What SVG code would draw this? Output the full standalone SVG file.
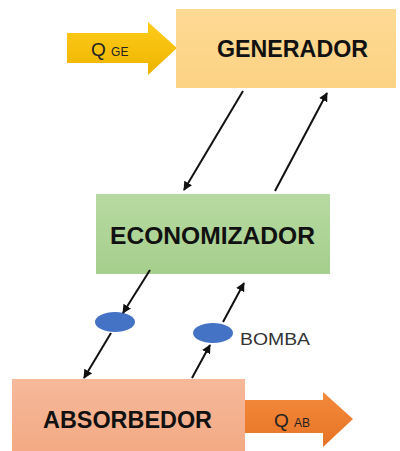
<svg xmlns="http://www.w3.org/2000/svg" width="400" height="451" viewBox="0 0 400 451">
<style>
.lbl{font-family:"Liberation Sans",Arial,sans-serif;font-weight:bold;fill:#111}
.q{font-family:"Liberation Sans",Arial,sans-serif;fill:#222}
.ln{stroke:#111;stroke-width:2;fill:none;marker-end:url(#ah)}
.pump{fill:#4472C4}
</style>
<defs>
<marker id="ah" viewBox="0 0 10 10" refX="9" refY="5" markerWidth="4.5" markerHeight="4.5" orient="auto" markerUnits="strokeWidth">
<path d="M0,0 L10,5 L0,10 z" fill="#111"/>
</marker>
<linearGradient id="gGen" x1="0" y1="0" x2="0" y2="1"><stop offset="0" stop-color="#FFDA95"/><stop offset="1" stop-color="#FCD283"/></linearGradient>
<linearGradient id="gEco" x1="0" y1="0" x2="0" y2="1"><stop offset="0" stop-color="#B7DAA2"/><stop offset="1" stop-color="#A6CE8C"/></linearGradient>
<linearGradient id="gAbs" x1="0" y1="0" x2="0" y2="1"><stop offset="0" stop-color="#F6B99A"/><stop offset="1" stop-color="#F2A882"/></linearGradient>
<linearGradient id="gQge" x1="0" y1="0" x2="0" y2="1"><stop offset="0" stop-color="#FFCC1A"/><stop offset="1" stop-color="#EDB400"/></linearGradient>
<linearGradient id="gQab" x1="0" y1="0" x2="0" y2="1"><stop offset="0" stop-color="#F48A3C"/><stop offset="1" stop-color="#E67325"/></linearGradient>
</defs>
<g id="qge">
<path d="M67,33 H148 V22 L177,48 L148,75 V63 H67 z" fill="url(#gQge)"/>
<text class="q" x="91" y="56" font-size="19">Q <tspan font-size="12">GE</tspan></text>
</g>
<g id="generador">
<rect x="176" y="9" width="220" height="79" fill="url(#gGen)"/>
<text class="lbl" x="217" y="57" font-size="24" textLength="151" lengthAdjust="spacingAndGlyphs">GENERADOR</text>
</g>
<g id="economizador">
<rect x="96" y="194" width="234" height="80" fill="url(#gEco)"/>
<text class="lbl" x="110" y="244" font-size="24" textLength="205" lengthAdjust="spacingAndGlyphs">ECONOMIZADOR</text>
</g>
<g id="absorbedor">
<rect x="12" y="379" width="233" height="80" fill="url(#gAbs)"/>
<text class="lbl" x="43" y="428" font-size="24" textLength="169" lengthAdjust="spacingAndGlyphs">ABSORBEDOR</text>
</g>
<g id="qab">
<path d="M245,400 H323 V392 L353,419 L323,447 V433 H245 z" fill="url(#gQab)"/>
<text class="q" x="274" y="427" font-size="19">Q <tspan font-size="12">AB</tspan></text>
</g>
<g id="valvula">
<ellipse class="pump" cx="115" cy="322" rx="20" ry="10"/>
</g>
<g id="bomba">
<ellipse class="pump" cx="213" cy="333" rx="20" ry="10"/>
<text x="240" y="345" font-family="Liberation Sans,Arial,sans-serif" font-size="16" fill="#333" textLength="70" lengthAdjust="spacingAndGlyphs">BOMBA</text>
</g>
<g id="connectors">
<line class="ln" x1="243" y1="91" x2="184" y2="190"/>
<line class="ln" x1="275" y1="191" x2="327" y2="93"/>
<line class="ln" x1="150" y1="270" x2="123" y2="313"/>
<line class="ln" x1="111" y1="333" x2="84" y2="378"/>
<line class="ln" x1="192" y1="378" x2="210" y2="345"/>
<line class="ln" x1="223" y1="322" x2="244" y2="283"/>
</g>
</svg>
